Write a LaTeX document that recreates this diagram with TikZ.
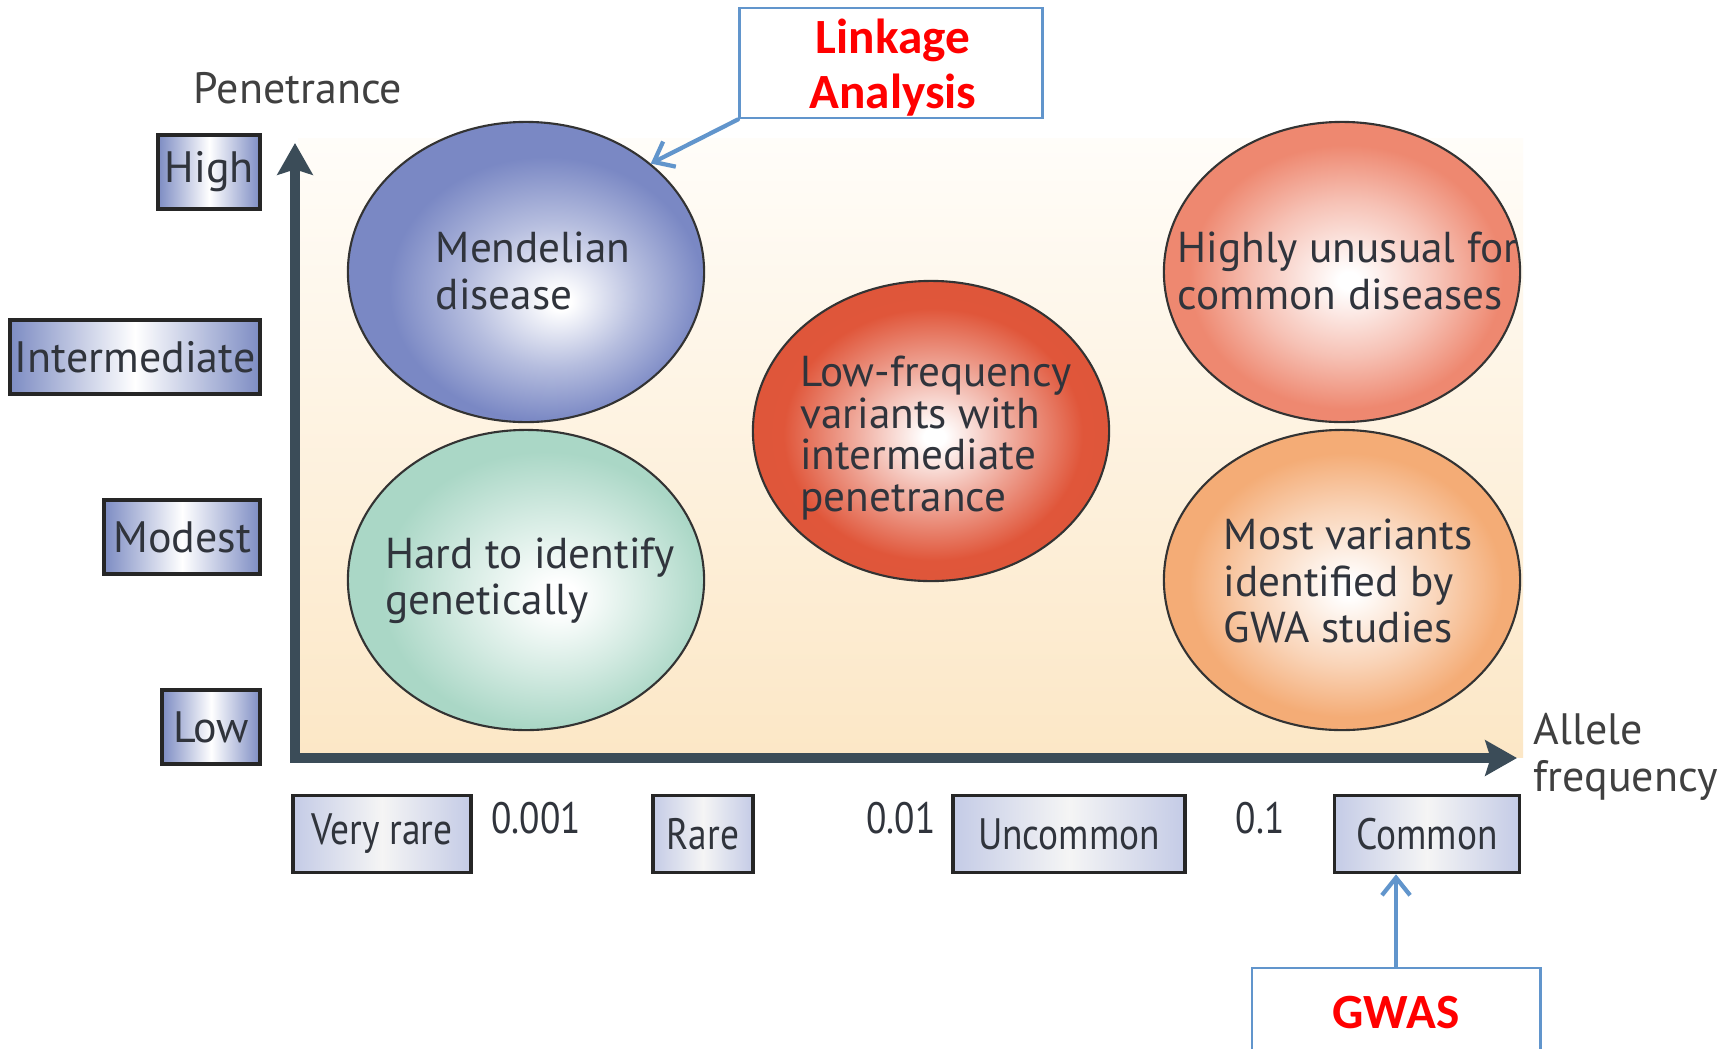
\documentclass[tikz,border=0pt]{standalone}
\usepackage{fontspec}
\setmainfont{PT Sans}
\newfontfamily\carlito{Carlito}
\usepackage{graphicx}
\usetikzlibrary{shapes.geometric,arrows.meta}

\definecolor{axisc}{HTML}{3B4C58}
\definecolor{txtc}{HTML}{30343C}
\definecolor{cMend}{RGB}{122,136,196}
\definecolor{cHard}{RGB}{170,215,198}
\definecolor{cLow}{RGB}{224,86,58}
\definecolor{cHigh}{RGB}{238,136,112}
\definecolor{cMost}{RGB}{244,172,118}
\definecolor{boxblue}{RGB}{125,140,195}
\definecolor{boxlight}{RGB}{196,203,230}
\definecolor{callout}{HTML}{6195CC}
\definecolor{bgtop}{HTML}{FFFDF9}
\definecolor{bgbot}{HTML}{FCE7C6}

\pgfdeclareradialshading{shMend}{\pgfpoint{5bp}{-5bp}}{color(0bp)=(white); color(1.5bp)=(white); color(12bp)=(cMend!55!white); color(22bp)=(cMend); color(50bp)=(cMend)}
\pgfdeclareradialshading{shHard}{\pgfpoint{5bp}{-3bp}}{color(0bp)=(white); color(2.5bp)=(white); color(13bp)=(cHard!50!white); color(23bp)=(cHard); color(50bp)=(cHard)}
\pgfdeclareradialshading{shLow}{\pgfpoint{0.5bp}{-1bp}}{color(0bp)=(white); color(1.5bp)=(white); color(12bp)=(cLow!55!white); color(21bp)=(cLow); color(50bp)=(cLow!96!black)}
\pgfdeclareradialshading{shHigh}{\pgfpoint{1bp}{-1.5bp}}{color(0bp)=(white); color(1.5bp)=(white); color(13bp)=(cHigh!52!white); color(22bp)=(cHigh); color(50bp)=(cHigh)}
\pgfdeclareradialshading{shMost}{\pgfpoint{1bp}{-1.5bp}}{color(0bp)=(white); color(1.5bp)=(white); color(13bp)=(cMost!52!white); color(22bp)=(cMost); color(50bp)=(cMost)}

\newcommand\narrowtxt[1]{\scalebox{0.85}[1]{#1}}

\tikzset{
  blob/.style={ellipse, draw=black!80, line width=0.6pt, minimum width=3.56cm, minimum height=3.0cm, inner sep=0pt},
  etxt/.style={align=left, text=txtc, inner sep=0pt, font=\fontsize{12.3}{13.2}\selectfont},
  lbox/.style={draw=black!85, line width=1pt, left color=boxblue, right color=boxblue, middle color=white,
    minimum height=0.74cm, anchor=east, text=txtc, inner sep=0pt, font=\fontsize{12.5}{14}\selectfont},
  bbox/.style={draw=black!85, line width=1pt, left color=boxlight, right color=boxlight, middle color=white!96!black,
    minimum height=0.77cm, text=txtc, inner sep=0pt, font=\fontsize{12.5}{14}\selectfont},
  num/.style={text=txtc, inner sep=0pt, font=\fontsize{12.5}{14}\selectfont},
  axlab/.style={text=black!75, inner sep=0pt, font=\fontsize{12.5}{13.3}\selectfont},
  cbox/.style={draw=callout, line width=0.8pt, fill=white, inner sep=0pt},
  ctxt/.style={text=red, align=center, inner sep=0pt, font=\carlito\bfseries\fontsize{14}{15.6}\selectfont},
  carrow/.style={draw=callout, line width=1.2pt, line cap=round, -{Straight Barb[length=5pt,width=8pt]}},
  axis/.style={draw=axisc, line width=2.6pt, line join=miter,
    {Stealth[length=9pt,width=10pt,inset=1.5pt]}-{Stealth[length=9pt,width=10pt,inset=1.5pt]}}
}

\begin{document}
\begin{tikzpicture}[x=0.01cm, y=-0.01cm]
\useasboundingbox (0,0) rectangle (1733,1048);
\clip (0,0) rectangle (1733,1048);
\fill[white] (0,0) rectangle (1733,1048);

% background panel
\fill[top color=bgtop, bottom color=bgbot] (298,138) rectangle (1523,757);

% axes
\coordinate (O) at (295,758);
\coordinate (ytip) at (295,143);
\coordinate (xtip) at (1517,758);
\draw[axis] (ytip) -- (O) -- (xtip);

\node[axlab] (pen) at (298,88) {Penetrance};
\node[axlab, anchor=west, align=left] (allele) at (1533,757) {Allele\\frequency};

% penetrance boxes
\node[lbox, minimum width=1.02cm] (high) at (262,172) {High};
\node[lbox, minimum width=2.50cm] (inter) at (262,357) {Intermediate};
\node[lbox, minimum width=1.56cm] (modest) at (262,537) {Modest};
\node[lbox, minimum width=0.98cm] (low) at (262,727) {Low};

% frequency boxes
\node[bbox, minimum width=1.78cm] (vrare) at (382,834) {\narrowtxt{Very rare}};
\node[bbox, minimum width=1.00cm] (rare) at (703,834) {\narrowtxt{Rare}};
\node[bbox, minimum width=2.32cm] (uncommon) at (1069,834) {\narrowtxt{Uncommon}};
\node[bbox, minimum width=1.85cm] (common) at (1427,834) {\narrowtxt{Common}};

\node[num] (n1) at (536,818) {\narrowtxt{0.001}};
\node[num] (n2) at (901,818) {\narrowtxt{0.01}};
\node[num] (n3) at (1260,818) {\narrowtxt{0.1}};

% ellipses
\node[blob, shading=shMend] (mend) at (526,272) {};
\node[blob, shading=shHard] (hard) at (526,580) {};
\node[blob, shading=shLow] (lowf) at (931,431) {};
\node[blob, shading=shHigh] (unus) at (1342,272) {};
\node[blob, shading=shMost] (most) at (1342,580) {};

\node[etxt] (mendt) at (533,271) {Mendelian\\disease};
\node[etxt] (hardt) at (530,581) {Hard to identify\\genetically};
\node[etxt, font=\fontsize{12.3}{11.8}\selectfont] (lowft) at (936,438) {Low-frequency\\variants with\\intermediate\\penetrance};
\node[etxt] (unust) at (1348,271) {Highly unusual for\\common diseases};
\node[etxt] (mostt) at (1348,581) {Most variants\\identified by\\GWA studies};

% callouts
\node[cbox, minimum width=3.03cm, minimum height=1.10cm] (link) at (891,63) {};
\node[ctxt] (linkt) at (893,68) {Linkage\\Analysis};
\node[cbox, minimum width=2.88cm, minimum height=0.86cm] (gwas) at (1396,1011) {};
\node[ctxt] (gwast) at (1396,1013) {GWAS};

\draw[carrow] (link.south west) -- (mend.41);
\draw[carrow] (gwas.north) -- (gwas.north |- common.south);
\end{tikzpicture}
\end{document}
